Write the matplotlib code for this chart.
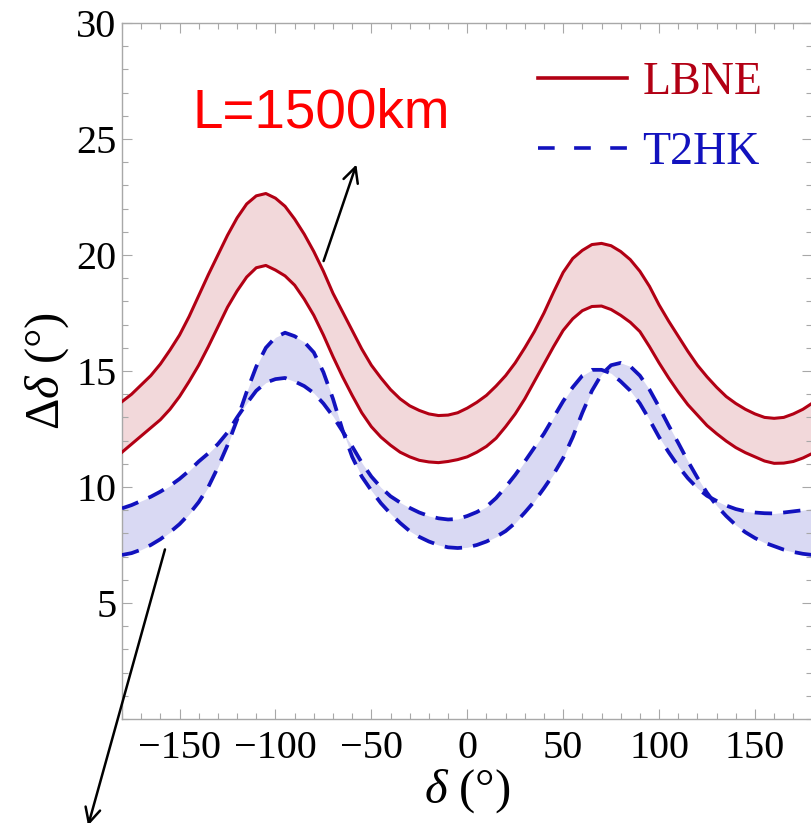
import numpy as np
import matplotlib
matplotlib.use("Agg")
import matplotlib.pyplot as plt
from matplotlib.lines import Line2D
from matplotlib.ticker import MultipleLocator

plt.rcParams["font.family"] = ["Liberation Serif", "DejaVu Serif"]
plt.rcParams["mathtext.fontset"] = "custom"
plt.rcParams["mathtext.rm"] = "Liberation Serif"
plt.rcParams["mathtext.it"] = "Liberation Serif:italic"
plt.rcParams["lines.scale_dashes"] = False

# delta grid (degrees)
delta = np.arange(-180, 181, 5)

# LBNE band
lbne_upper = [13.68, 14.0, 14.4, 14.8, 15.3, 15.9, 16.55, 17.35, 18.25, 19.15,
              20.0, 20.85, 21.6, 22.2, 22.55, 22.65, 22.45, 22.1, 21.55, 20.9,
              20.15, 19.3, 18.35, 17.55, 16.75, 15.95, 15.25, 14.7, 14.2, 13.8,
              13.5, 13.3, 13.15, 13.08, 13.1, 13.2, 13.4, 13.65, 13.95, 14.35,
              14.8, 15.35, 16.0, 16.7, 17.5, 18.4, 19.25, 19.85, 20.2, 20.45,
              20.5, 20.4, 20.15, 19.8, 19.3, 18.65, 17.85, 17.15, 16.5, 15.85,
              15.25, 14.75, 14.3, 13.9, 13.6, 13.35, 13.15, 13.0, 12.96, 13.0,
              13.15, 13.35, 13.62]
lbne_lower = [11.5, 11.85, 12.2, 12.55, 12.9, 13.35, 13.9, 14.55, 15.25, 16.05,
              16.9, 17.75, 18.45, 19.05, 19.45, 19.55, 19.35, 19.1, 18.7, 18.1,
              17.4, 16.55, 15.62, 14.75, 13.95, 13.2, 12.6, 12.15, 11.8, 11.5,
              11.3, 11.15, 11.08, 11.05, 11.1, 11.18, 11.3, 11.5, 11.75, 12.1,
              12.6, 13.15, 13.8, 14.55, 15.3, 16.05, 16.75, 17.25, 17.6, 17.78,
              17.8, 17.65, 17.4, 17.1, 16.7, 16.05, 15.35, 14.7, 14.1, 13.55,
              13.1, 12.65, 12.3, 11.98, 11.7, 11.48, 11.3, 11.12, 11.02, 11.03,
              11.1, 11.25, 11.45]

# T2HK: two dashed curves that cross each other
t2hk_a = [9.08, 9.22, 9.4, 9.58, 9.8, 10.05, 10.35, 10.7, 11.1, 11.45,
          11.85, 12.35, 13.0, 13.6, 14.15, 14.5, 14.65, 14.7, 14.55, 14.35,
          14.05, 13.6, 13.05, 12.4, 11.75, 11.05, 10.45, 9.98, 9.6, 9.33,
          9.1, 8.9, 8.75, 8.65, 8.6, 8.62, 8.75, 8.92, 9.15, 9.52,
          10.0, 10.52, 11.1, 11.7, 12.3, 13.0, 13.7, 14.3, 14.8, 15.05,
          15.05, 14.9, 14.55, 14.15, 13.6, 12.9, 12.15, 11.5, 10.9, 10.38,
          9.95, 9.62, 9.4, 9.2, 9.05, 8.95, 8.9, 8.87, 8.86, 8.9,
          8.95, 9.0, 9.08]
t2hk_b = [7.07, 7.15, 7.3, 7.5, 7.75, 8.05, 8.4, 8.83, 9.35, 10.0,
          10.85, 11.8, 12.9, 14.1, 15.19, 16.0, 16.45, 16.65, 16.5, 16.25,
          15.8, 14.95, 13.8, 12.45, 11.3, 10.45, 9.85, 9.3, 8.85, 8.45,
          8.1, 7.85, 7.65, 7.5, 7.4, 7.37, 7.4, 7.5, 7.65, 7.85,
          8.1, 8.45, 8.9, 9.38, 9.95, 10.55, 11.25, 12.15, 13.2, 14.15,
          14.85, 15.25, 15.35, 15.2, 14.8, 14.2, 13.45, 12.65, 11.9, 11.12,
          10.4, 9.75, 9.2, 8.75, 8.36, 8.05, 7.8, 7.6, 7.45, 7.3,
          7.2, 7.12, 7.07]

series_names = ["LBNE", "T2HK"]
x_ticks = [-150, -100, -50, 0, 50, 100, 150]
y_ticks = [5, 10, 15, 20, 25, 30]

RED = "#b20014"
RED_FILL = "#f2d8da"
BLUE = "#1212be"
BLUE_FILL = "#d9d9f3"
GRAY = "#a8a8a8"

fig = plt.figure(figsize=(8.12, 8.23), dpi=100)
ax = fig.add_axes([122 / 812, 1 - 719 / 823, 690.5 / 812, 696 / 823])

ax.fill_between(delta, lbne_lower, lbne_upper, color=RED_FILL, lw=0, zorder=1)
ax.fill_between(delta, t2hk_a, t2hk_b, color=BLUE_FILL, lw=0, zorder=1)
ax.plot(delta, lbne_upper, color=RED, lw=2.2, zorder=3)
ax.plot(delta, lbne_lower, color=RED, lw=2.2, zorder=3)
ax.plot(delta, t2hk_a, color=BLUE, lw=2.7, dashes=(12.5, 8), zorder=3)
ax.plot(delta, t2hk_b, color=BLUE, lw=2.7, dashes=(12.5, 8), zorder=3)

ax.set_xlim(-180, 180)
ax.set_ylim(0, 30)
ax.set_xticks(x_ticks)
ax.set_yticks(y_ticks)
ax.xaxis.set_minor_locator(MultipleLocator(10))
ax.yaxis.set_minor_locator(MultipleLocator(1))
ax.tick_params(which="both", direction="in", top=True, right=True,
               color=GRAY, width=0.8)
ax.tick_params(which="major", length=7, labelsize=29)
ax.tick_params(which="minor", length=4)
ax.tick_params(axis="x", pad=8)
ax.tick_params(axis="y", pad=4)
for sp in ax.spines.values():
    sp.set_color(GRAY)
    sp.set_linewidth(1.0)

ax.set_xlabel(r"$\mathit{\delta}$ (°)", fontsize=35, labelpad=0)
ax.set_ylabel(r"$\mathrm{\Delta}\mathit{\delta}$ (°)", fontsize=35, labelpad=4)

ax.text(-76, 26.1, "L=1500km", color="red", fontsize=39.5,
        family="Liberation Sans", ha="center", va="center")

arrow = dict(arrowstyle="->", lw=1.8, color="black", mutation_scale=27,
             shrinkA=0, shrinkB=0)
ax.annotate("", xy=(-57.8, 23.9), xytext=(-74.9, 19.74), arrowprops=arrow,
            annotation_clip=False)
ax.annotate("", xy=(-197.7, -4.6), xytext=(-157.6, 7.31), arrowprops=arrow,
            annotation_clip=False)

handles = [Line2D([], [], color=RED, lw=2.6),
           Line2D([], [], color=BLUE, lw=2.6, dashes=(12, 14))]
leg = ax.legend(handles, series_names, loc="upper left",
                bbox_to_anchor=(538 / 812, 1 - 62 / 823),
                bbox_transform=fig.transFigure, frameon=False, fontsize=33,
                handlelength=1.95, handletextpad=0.33, labelspacing=0.6,
                borderpad=0, borderaxespad=0)
for txt, c in zip(leg.get_texts(), [RED, BLUE]):
    txt.set_color(c)

fig.savefig("out.png", dpi=100)
